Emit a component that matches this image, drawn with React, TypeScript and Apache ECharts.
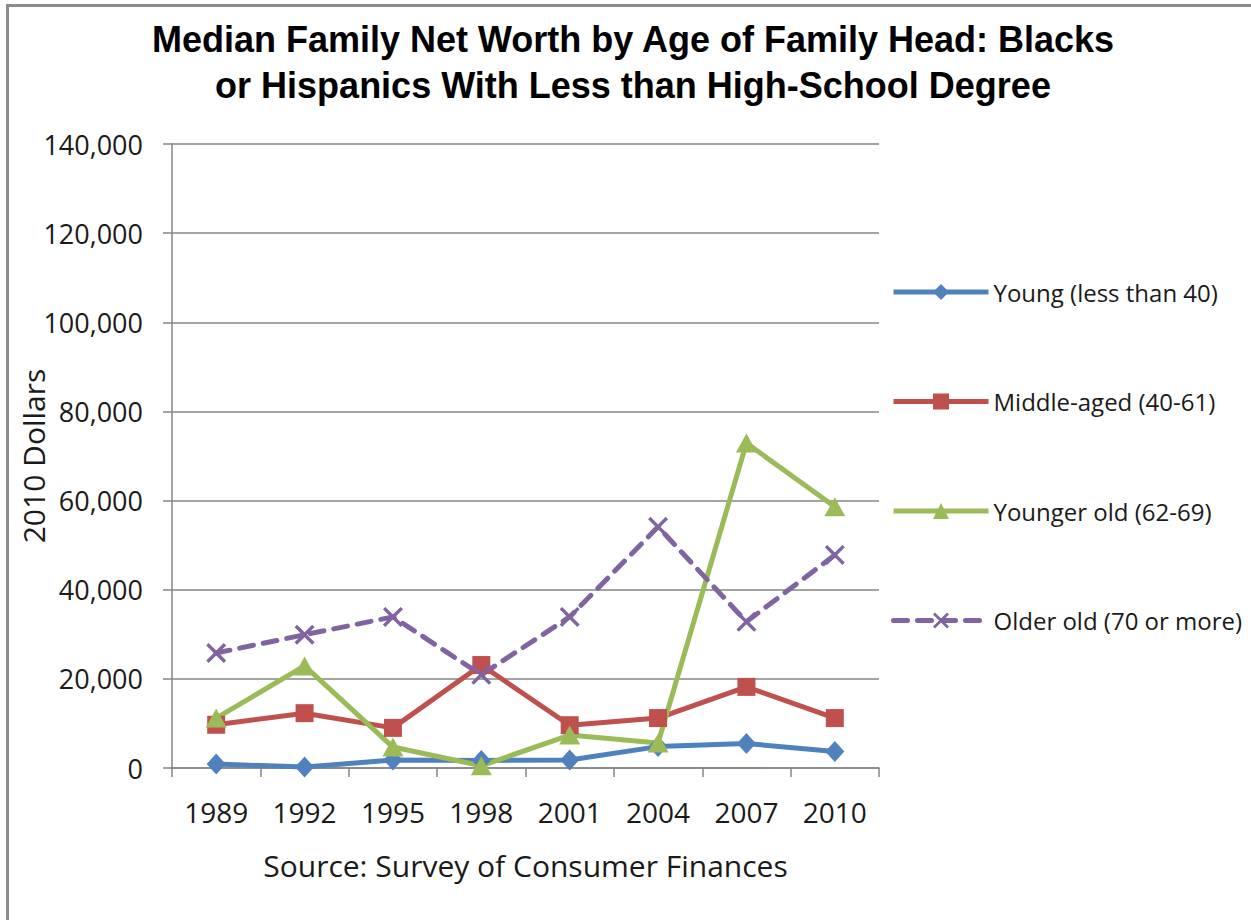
import React, { useEffect, useRef } from "react";
import * as echarts from "echarts";

const years = ["1989", "1992", "1995", "1998", "2001", "2004", "2007", "2010"];
const young = [900, 200, 1800, 1700, 1800, 4800, 5500, 3700];
const middleAged = [9700, 12300, 9000, 23100, 9600, 11200, 18200, 11200];
const youngerOld = [11200, 22900, 4700, 500, 7400, 5600, 72900, 58600];
const olderOld = [25800, 29900, 33900, 20900, 33900, 54100, 32800, 47800];

const seriesNames = [
  "Young (less than 40)",
  "Middle-aged (40-61)",
  "Younger old (62-69)",
  "Older old (70 or more)",
];

const titleLines = [
  "Median Family Net Worth by Age of Family Head: Blacks",
  "or Hispanics With Less than High-School Degree",
];

const FONT = "'Open Sans', sans-serif";
const X_SYMBOL =
  "path://M0,1.2 L1.2,0 L5,3.8 L8.8,0 L10,1.2 L6.2,5 L10,8.8 L8.8,10 L5,6.2 L1.2,10 L0,8.8 L3.8,5 Z";

export default function App() {
  const ref = useRef<HTMLDivElement>(null);

  useEffect(() => {
    if (!ref.current) return;
    const chart = echarts.init(ref.current, undefined, { renderer: "svg" });
    const lineW = 5;
    chart.setOption({
      animation: false,
      backgroundColor: "#ffffff",
      graphic: [
        {
          type: "rect",
          shape: { x: 7.5, y: 5.5, width: 1400, height: 1100 },
          style: { fill: "none", stroke: "#8c8c8c", lineWidth: 3 },
          z: 100,
        },
        {
          type: "text",
          x: 633,
          y: 16,
          style: {
            text: titleLines.join("\n"),
            align: "center",
            verticalAlign: "top",
            font: "bold 36px 'Liberation Sans Narrow', 'Arial Narrow', sans-serif",
            lineHeight: 46,
            fill: "#000000",
          },
        },
      ],
      legend: {
        orient: "vertical",
        left: 891,
        top: 279,
        padding: 0,
        itemWidth: 95,
        itemHeight: 20,
        itemGap: 83.5,
        lineStyle: { width: 5 },
        textStyle: {
          fontFamily: FONT,
          fontSize: 24,
          lineHeight: 26,
          color: "#1a1a1a",
        },
        data: seriesNames,
      },
      grid: {
        left: 172,
        right: 372,
        top: 144,
        bottom: 152,
        containLabel: false,
        outerBoundsMode: "none",
      },
      xAxis: {
        type: "category",
        data: years,
        boundaryGap: true,
        name: "Source: Survey of Consumer Finances",
        nameLocation: "middle",
        nameGap: 82,
        nameTextStyle: { fontFamily: FONT, fontSize: 30, color: "#1a1a1a" },
        axisLine: { lineStyle: { color: "#868686", width: 1.5 } },
        axisTick: { show: true, length: 9, lineStyle: { color: "#868686", width: 1.5 } },
        axisLabel: { fontFamily: FONT, fontSize: 28, color: "#1a1a1a", margin: 30 },
        splitLine: { show: false },
      },
      yAxis: {
        type: "value",
        min: 0,
        max: 140000,
        interval: 20000,
        name: "2010 Dollars",
        nameLocation: "middle",
        nameGap: 124,
        nameMoveOverlap: false,
        nameTextStyle: { fontFamily: FONT, fontSize: 30, color: "#1a1a1a" },
        axisLine: { show: true, lineStyle: { color: "#868686", width: 1.5 } },
        axisTick: { show: true, length: 9, lineStyle: { color: "#868686", width: 1.5 } },
        axisLabel: {
          fontFamily: FONT,
          fontSize: 27,
          color: "#1a1a1a",
          margin: 29,
          formatter: (v: number) => v.toLocaleString("en-US"),
        },
        splitLine: { show: true, lineStyle: { color: "#868686", width: 1.5 } },
      },
      series: [
        {
          name: seriesNames[0],
          type: "line",
          data: young,
          symbol: "diamond",
          symbolSize: [19, 21],
          lineStyle: { color: "#4F81BD", width: lineW },
          itemStyle: { color: "#4F81BD" },
        },
        {
          name: seriesNames[1],
          type: "line",
          data: middleAged,
          symbol: "rect",
          symbolSize: 18,
          lineStyle: { color: "#C0504D", width: lineW },
          itemStyle: { color: "#C0504D" },
        },
        {
          name: seriesNames[2],
          type: "line",
          data: youngerOld,
          symbol: "triangle",
          symbolSize: [21, 19],
          lineStyle: { color: "#9BBB59", width: lineW },
          itemStyle: { color: "#9BBB59" },
        },
        {
          name: seriesNames[3],
          type: "line",
          data: olderOld,
          symbol: X_SYMBOL,
          symbolSize: 20,
          lineStyle: { color: "#8064A2", width: lineW, type: [14, 10], cap: "round" },
          itemStyle: { color: "#8064A2" },
        },
      ],
    });
    return () => chart.dispose();
  }, []);

  return (
    <div
      ref={ref}
      style={{ position: "absolute", left: 0, top: 0, width: 1251, height: 920 }}
    />
  );
}
